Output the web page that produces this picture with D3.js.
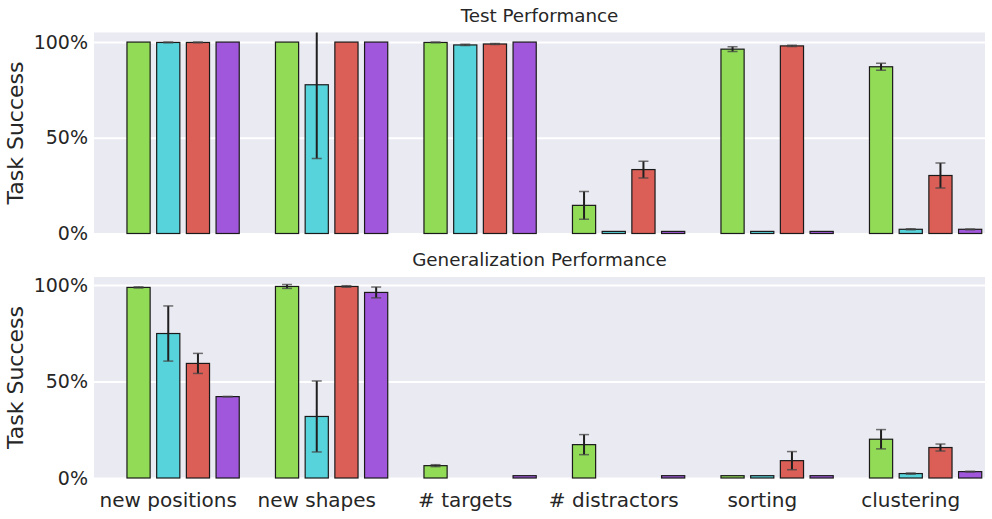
<!DOCTYPE html>
<html>
<head>
<meta charset="utf-8">
<script src="https://cdn.jsdelivr.net/npm/d3@7"></script>
<style>
  body { margin: 0; background: #fff; }
  svg { display: block; font-family: "DejaVu Sans", sans-serif; }
</style>
</head>
<body>
<div id="chart"></div>
<script>
// categories on the x axis
const categories = ['new positions', 'new shapes', '# targets', '# distractors', 'sorting', 'clustering'];
const seriesColors = ['#91db57', '#57d3db', '#db5f57', '#a157db'];

// test performance, mean % per series
const testGreen = [100, 100, 99.8, 14.7, 96.3, 87.1];
const testCyan = [99.8, 77.7, 98.5, 1.1, 1.1, 2.2];
const testRed = [99.8, 100, 99.0, 33.4, 98.0, 30.3];
const testPurple = [100, 100, 100, 1.1, 1.1, 2.2];
// test performance, error (+/-)
const testGreenErr = [0, 0, 0.2, 7.3, 1.2, 1.8];
const testCyanErr = [0.2, 38.5, 0.3, 0, 0, 0.3];
const testRedErr = [0.2, 0, 0.3, 4.4, 0.3, 6.5];
const testPurpleErr = [0, 0, 0, 0, 0, 0.2];

// generalization performance, mean %
const genGreen = [98.8, 99.3, 6.4, 17.3, 1.2, 20.1];
const genCyan = [74.9, 31.9, 0, 0, 1.2, 2.3];
const genRed = [59.4, 99.3, 0, 0, 9.0, 15.8];
const genPurple = [42.2, 96.2, 1.2, 1.2, 1.2, 3.3];
// generalization performance, error
const genGreenErr = [0.3, 1.0, 0.5, 5.2, 0, 5.0];
const genCyanErr = [14.3, 18.4, 0, 0, 0, 0.3];
const genRedErr = [5.2, 0.4, 0, 0, 4.7, 1.8];
const genPurpleErr = [0.1, 2.8, 0, 0, 0, 0.2];

const yTicks = [0, 50, 100];

const W = 992, H = 519;
const left = 94, right = 985;

const svg = d3.select('#chart').append('svg')
    .attr('width', W)
    .attr('height', H);

const x = d3.scaleBand().domain(categories).range([left, right]).padding(0);
// five hue slots per group, the first one is empty
const slot = d3.scaleBand().domain(d3.range(5)).range([0, x.bandwidth()]);
const barW = slot.bandwidth() * 0.78;

function drawPanel(opts) {
    const y = d3.scaleLinear().domain([0, opts.yMax]).range([opts.bottom, opts.top]);
    const g = svg.append('g');

    g.append('rect')
        .attr('x', left).attr('y', opts.top)
        .attr('width', right - left).attr('height', opts.bottom - opts.top)
        .attr('fill', '#eaeaf2');

    const clipId = 'clip-' + opts.id;
    svg.append('clipPath').attr('id', clipId)
        .append('rect')
        .attr('x', left).attr('y', opts.top)
        .attr('width', right - left).attr('height', opts.bottom - opts.top);

    const yAxis = d3.axisLeft(y).tickValues(yTicks)
        .tickSize(-(right - left)).tickPadding(6)
        .tickFormat(d => d + '%');
    const ax = g.append('g').attr('transform', `translate(${left},0)`).call(yAxis);
    ax.select('.domain').remove();
    ax.selectAll('.tick line').attr('stroke', '#fff').attr('stroke-width', 2);
    ax.selectAll('.tick text')
        .attr('font-size', 19).attr('fill', '#262626')
        .attr('font-family', '"DejaVu Sans", sans-serif');

    const rows = [];
    opts.series.forEach((vals, si) => {
        vals.forEach((v, ci) => {
            rows.push({ cat: categories[ci], si: si, value: v, err: opts.errors[si][ci] });
        });
    });

    const cx = d => x(d.cat) + slot(d.si + 1) + slot.bandwidth() / 2;

    g.selectAll('rect.bar')
        .data(rows.filter(d => d.value > 0))
        .enter().append('rect')
        .attr('class', 'bar')
        .attr('x', d => cx(d) - barW / 2)
        .attr('y', d => y(d.value))
        .attr('width', barW)
        .attr('height', d => y(0) - y(d.value))
        .attr('fill', d => seriesColors[d.si])
        .attr('stroke', '#1a1a1a')
        .attr('stroke-width', 1.2);

    const eb = g.append('g').attr('clip-path', `url(#${clipId})`);
    const withErr = rows.filter(d => d.err > 0);
    eb.selectAll('line.err')
        .data(withErr)
        .enter().append('line')
        .attr('x1', cx).attr('x2', cx)
        .attr('y1', d => y(d.value + d.err))
        .attr('y2', d => y(Math.max(0, d.value - d.err)))
        .attr('stroke', '#1f1f1f').attr('stroke-width', 2);
    ['top', 'bot'].forEach(k => {
        eb.selectAll('line.cap-' + k)
            .data(withErr)
            .enter().append('line')
            .attr('x1', d => cx(d) - 5).attr('x2', d => cx(d) + 5)
            .attr('y1', d => y(k === 'top' ? d.value + d.err : d.value - d.err))
            .attr('y2', d => y(k === 'top' ? d.value + d.err : d.value - d.err))
            .attr('stroke', '#444').attr('stroke-opacity', 0.75).attr('stroke-width', 1.5);
    });

    svg.append('text')
        .attr('x', (left + right) / 2).attr('y', opts.top - 11)
        .attr('text-anchor', 'middle')
        .attr('font-size', 18.3).attr('fill', '#262626')
        .text(opts.title);

    svg.append('text')
        .attr('transform', `translate(23,${(opts.top + opts.bottom) / 2}) rotate(-90)`)
        .attr('text-anchor', 'middle')
        .attr('font-size', 22).attr('fill', '#262626')
        .text('Task Success');
}

drawPanel({
    id: 'test', title: 'Test Performance', top: 32.5, bottom: 233.5, yMax: 105,
    series: [testGreen, testCyan, testRed, testPurple],
    errors: [testGreenErr, testCyanErr, testRedErr, testPurpleErr]
});

drawPanel({
    id: 'gen', title: 'Generalization Performance', top: 277, bottom: 478, yMax: 104.2,
    series: [genGreen, genCyan, genRed, genPurple],
    errors: [genGreenErr, genCyanErr, genRedErr, genPurpleErr]
});

// category labels under the lower panel
const xAxis = d3.axisBottom(x).tickSize(0).tickPadding(15);
const xa = svg.append('g').attr('transform', 'translate(0,478)').call(xAxis);
xa.select('.domain').remove();
xa.selectAll('.tick text')
    .attr('font-size', 20).attr('fill', '#262626')
    .attr('font-family', '"DejaVu Sans", sans-serif');
</script>
</body>
</html>
